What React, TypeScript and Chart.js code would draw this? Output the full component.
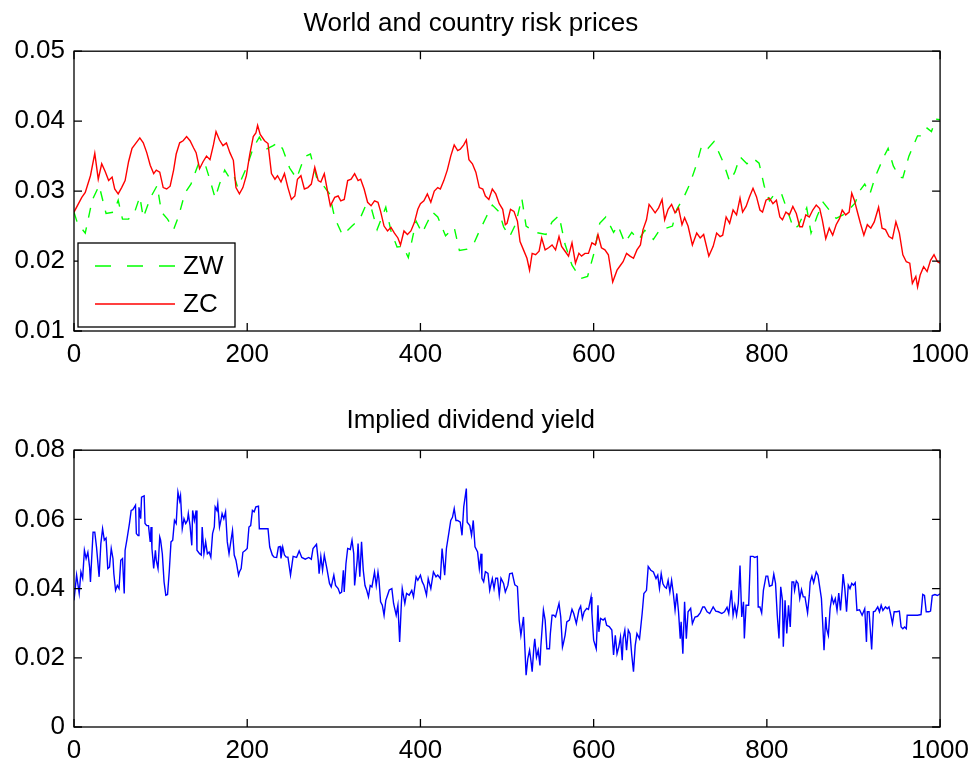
import React, { useEffect, useRef } from "react";
import { Chart, registerables } from "chart.js";

Chart.register(...registerables);

// ---------- DATA ----------
const xTicks = [0, 200, 400, 600, 800, 1000];
const topYTicks = [0.01, 0.02, 0.03, 0.04, 0.05];
const bottomYTicks = [0, 0.02, 0.04, 0.06, 0.08];

// ZW (world risk price), dashed green
const zwX = [0, 4, 13, 21, 29, 37, 46, 51, 56, 63, 70, 76, 80, 88, 96, 101, 108, 115, 121, 128, 135, 144, 151, 157, 163, 168, 174, 179, 184, 189, 199, 207, 214, 222, 230, 236, 241, 249, 257, 266, 273, 280, 285, 295, 301, 310, 321, 330, 337, 343, 350, 360, 366, 373, 380, 386, 395, 402, 407, 414, 420, 429, 439, 445, 454, 462, 467, 476, 483, 491, 496, 503, 510, 517, 522, 533, 545, 552, 560, 567, 575, 585, 593, 601, 607, 614, 623, 628, 636, 644, 652, 659, 669, 677, 684, 691, 696, 704, 711, 719, 725, 732, 739, 750, 757, 763, 769, 777, 784, 791, 797, 803, 809, 817, 824, 831, 836, 846, 851, 858, 865, 872, 880, 888, 895, 902, 907, 913, 919, 925, 935, 940, 946, 953, 957, 964, 974, 980, 985, 990, 995, 1000];
const zwY = [0.027, 0.0254, 0.024, 0.0287, 0.0308, 0.0268, 0.027, 0.0287, 0.026, 0.026, 0.027, 0.0292, 0.0262, 0.029, 0.0308, 0.027, 0.026, 0.0245, 0.0265, 0.0297, 0.031, 0.034, 0.034, 0.0316, 0.029, 0.031, 0.033, 0.032, 0.0325, 0.0305, 0.0333, 0.0362, 0.0377, 0.036, 0.0365, 0.037, 0.036, 0.0333, 0.0318, 0.0349, 0.0353, 0.032, 0.0313, 0.0296, 0.0262, 0.0237, 0.025, 0.026, 0.028, 0.0277, 0.0245, 0.0277, 0.0243, 0.022, 0.0221, 0.0205, 0.0257, 0.024, 0.0253, 0.027, 0.0263, 0.0236, 0.0248, 0.0215, 0.0217, 0.0226, 0.024, 0.0263, 0.028, 0.027, 0.0249, 0.0235, 0.0253, 0.029, 0.025, 0.0241, 0.0238, 0.0256, 0.0265, 0.0224, 0.0194, 0.0175, 0.0178, 0.0214, 0.0254, 0.0263, 0.0241, 0.0251, 0.0226, 0.0241, 0.023, 0.0244, 0.0231, 0.0246, 0.0247, 0.025, 0.0274, 0.0291, 0.031, 0.0339, 0.0366, 0.0361, 0.0371, 0.034, 0.0314, 0.0327, 0.0349, 0.0339, 0.0347, 0.034, 0.0307, 0.0286, 0.0296, 0.0296, 0.0271, 0.0246, 0.025, 0.0276, 0.024, 0.0264, 0.0284, 0.0273, 0.0261, 0.0266, 0.0274, 0.0283, 0.03, 0.031, 0.0296, 0.032, 0.0349, 0.0361, 0.0336, 0.032, 0.0319, 0.035, 0.0379, 0.0379, 0.039, 0.0385, 0.0403, 0.0402];

// ZC (country risk price), solid red
const zcX = [0, 9, 13, 19, 24, 28, 32, 36, 40, 44, 47, 51, 55, 59, 63, 67, 70, 76, 80, 84, 88, 92, 95, 99, 103, 107, 111, 115, 118, 122, 126, 130, 134, 138, 141, 145, 149, 153, 157, 161, 164, 168, 172, 176, 180, 184, 187, 191, 195, 199, 203, 207, 210, 212, 215, 220, 224, 228, 232, 235, 239, 243, 247, 251, 255, 258, 262, 266, 270, 274, 278, 282, 285, 289, 293, 296, 301, 305, 308, 312, 316, 320, 324, 328, 331, 335, 339, 343, 347, 351, 354, 358, 362, 366, 370, 374, 377, 381, 385, 389, 393, 397, 400, 404, 408, 412, 416, 420, 423, 427, 431, 435, 439, 443, 446, 450, 453, 456, 460, 464, 468, 472, 475, 479, 483, 487, 491, 495, 498, 500, 504, 508, 512, 515, 519, 523, 526, 529, 533, 537, 540, 544, 548, 552, 556, 560, 563, 567, 571, 575, 579, 583, 586, 590, 594, 598, 602, 605, 609, 613, 617, 622, 627, 631, 634, 638, 642, 646, 650, 654, 657, 661, 664, 667, 671, 675, 679, 682, 686, 690, 694, 698, 702, 705, 709, 714, 719, 723, 727, 733, 738, 742, 746, 749, 753, 757, 761, 765, 769, 772, 776, 780, 784, 788, 792, 795, 799, 803, 807, 811, 815, 818, 822, 826, 830, 834, 838, 841, 845, 849, 853, 857, 861, 864, 868, 872, 876, 880, 884, 887, 891, 895, 898, 901, 905, 908, 912, 916, 920, 924, 929, 933, 937, 941, 945, 949, 953, 957, 961, 965, 968, 972, 974, 977, 981, 985, 989, 993, 997, 1000];
const zcY = [0.027, 0.0291, 0.0298, 0.0322, 0.0354, 0.0317, 0.0339, 0.0328, 0.0315, 0.032, 0.0303, 0.0296, 0.0305, 0.0315, 0.0342, 0.0361, 0.0366, 0.0376, 0.0369, 0.0355, 0.0337, 0.0325, 0.033, 0.0327, 0.0305, 0.0303, 0.0307, 0.033, 0.0353, 0.0369, 0.0372, 0.0378, 0.0372, 0.0362, 0.0355, 0.0332, 0.0342, 0.035, 0.0345, 0.0366, 0.0385, 0.0373, 0.0365, 0.0369, 0.0355, 0.0344, 0.0305, 0.0296, 0.0305, 0.0322, 0.0353, 0.0378, 0.0383, 0.0394, 0.0381, 0.0372, 0.0368, 0.0325, 0.0317, 0.0322, 0.0313, 0.0325, 0.0305, 0.0288, 0.0293, 0.0317, 0.0322, 0.0303, 0.0305, 0.031, 0.0334, 0.0315, 0.0313, 0.0325, 0.0298, 0.0279, 0.0291, 0.0293, 0.0286, 0.0288, 0.0315, 0.0317, 0.0325, 0.0315, 0.0317, 0.0303, 0.0284, 0.0279, 0.0286, 0.0284, 0.0271, 0.025, 0.0243, 0.0248, 0.024, 0.0233, 0.0223, 0.0243, 0.0238, 0.0243, 0.0255, 0.0274, 0.0282, 0.0286, 0.0296, 0.0284, 0.03, 0.0305, 0.0303, 0.0315, 0.033, 0.035, 0.0366, 0.0358, 0.036, 0.0366, 0.0373, 0.0345, 0.0339, 0.0327, 0.0305, 0.0303, 0.0293, 0.0288, 0.0303, 0.0296, 0.0282, 0.0274, 0.0252, 0.0254, 0.0274, 0.0271, 0.0257, 0.0228, 0.0216, 0.0204, 0.0187, 0.0211, 0.0209, 0.0214, 0.0233, 0.0216, 0.0219, 0.0223, 0.0216, 0.0235, 0.0221, 0.0214, 0.0207, 0.0226, 0.0197, 0.0211, 0.0207, 0.0211, 0.0211, 0.0226, 0.0223, 0.0238, 0.0219, 0.0216, 0.0209, 0.017, 0.0187, 0.0194, 0.0199, 0.0211, 0.0207, 0.0204, 0.0216, 0.0223, 0.0245, 0.0259, 0.0281, 0.0276, 0.0269, 0.0276, 0.0288, 0.0259, 0.0274, 0.0281, 0.0269, 0.0276, 0.0252, 0.0262, 0.025, 0.0223, 0.024, 0.0233, 0.0238, 0.0207, 0.0221, 0.024, 0.0235, 0.0237, 0.0263, 0.0254, 0.0273, 0.0266, 0.029, 0.027, 0.0278, 0.0292, 0.0304, 0.0292, 0.0273, 0.027, 0.0287, 0.029, 0.0282, 0.0287, 0.0263, 0.0259, 0.027, 0.0266, 0.0278, 0.0268, 0.0249, 0.0249, 0.0266, 0.0263, 0.0273, 0.028, 0.0275, 0.0259, 0.0232, 0.0247, 0.0237, 0.0252, 0.0261, 0.0273, 0.0266, 0.027, 0.0297, 0.0287, 0.0268, 0.0254, 0.0237, 0.0252, 0.0247, 0.0256, 0.0277, 0.0247, 0.0245, 0.0235, 0.0232, 0.0256, 0.024, 0.0209, 0.0199, 0.0197, 0.0168, 0.0178, 0.0163, 0.018, 0.0192, 0.0185, 0.0201, 0.0209, 0.0199, 0.0197];

// Implied dividend yield, solid blue
const dyX = [0, 3, 6, 8, 10, 12, 14, 16, 18, 19, 22, 24, 26, 29, 31, 33, 35, 37, 39, 41, 43, 45, 46, 48, 50, 52, 54, 56, 58, 59, 61, 64, 66, 68, 71, 72, 74, 75, 77, 78, 81, 82, 84, 86, 88, 89, 90, 92, 94, 95, 97, 99, 100, 102, 104, 106, 108, 110, 112, 114, 116, 118, 120, 122, 123, 125, 127, 129, 131, 132, 134, 136, 137, 139, 141, 142, 145, 147, 148, 150, 152, 154, 156, 158, 160, 162, 163, 165, 166, 168, 170, 171, 173, 175, 177, 179, 181, 183, 185, 187, 190, 191, 193, 195, 198, 200, 202, 204, 206, 208, 210, 213, 214, 218, 222, 224, 226, 229, 231, 234, 236, 238, 239, 241, 243, 245, 247, 250, 253, 257, 260, 263, 267, 271, 274, 276, 280, 282, 283, 285, 287, 289, 292, 295, 297, 300, 302, 305, 307, 309, 311, 312, 314, 316, 319, 321, 323, 324, 327, 328, 330, 332, 334, 336, 338, 340, 342, 344, 347, 349, 351, 352, 354, 356, 358, 360, 362, 364, 367, 369, 372, 374, 376, 378, 379, 382, 384, 387, 390, 392, 395, 397, 400, 402, 404, 407, 409, 412, 415, 418, 420, 423, 425, 428, 430, 433, 435, 437, 439, 441, 443, 446, 448, 450, 453, 454, 457, 459, 461, 463, 466, 468, 470, 471, 473, 475, 478, 480, 483, 485, 487, 489, 491, 493, 496, 498, 501, 503, 506, 509, 512, 514, 516, 519, 522, 524, 526, 528, 529, 531, 532, 534, 536, 538, 539, 542, 544, 546, 549, 550, 552, 554, 556, 558, 560, 562, 564, 565, 567, 569, 572, 575, 577, 580, 583, 585, 587, 589, 592, 594, 597, 598, 600, 603, 605, 606, 608, 611, 613, 615, 618, 621, 623, 625, 627, 629, 631, 633, 634, 636, 638, 640, 642, 644, 646, 648, 650, 653, 656, 658, 661, 663, 666, 669, 672, 674, 676, 678, 680, 682, 684, 686, 688, 690, 692, 694, 696, 698, 700, 701, 703, 705, 707, 709, 712, 714, 717, 720, 723, 726, 728, 731, 734, 738, 741, 744, 748, 751, 754, 756, 759, 761, 763, 765, 767, 769, 771, 773, 774, 776, 779, 781, 784, 786, 789, 790, 792, 794, 796, 799, 801, 803, 806, 808, 810, 812, 814, 816, 818, 819, 821, 823, 825, 827, 829, 831, 832, 834, 836, 838, 840, 842, 844, 847, 849, 850, 852, 854, 857, 859, 861, 863, 864, 866, 868, 869, 871, 873, 875, 877, 879, 881, 883, 885, 887, 888, 890, 892, 894, 896, 898, 900, 902, 904, 907, 910, 913, 915, 916, 918, 921, 923, 925, 928, 930, 932, 934, 937, 939, 941, 943, 945, 947, 950, 953, 955, 957, 959, 961, 962, 968, 974, 978, 980, 982, 984, 987, 989, 991, 994, 997, 1000];
const dyY = [0.0366, 0.0439, 0.0386, 0.0448, 0.043, 0.0511, 0.0487, 0.0505, 0.0462, 0.0419, 0.0563, 0.0563, 0.052, 0.0434, 0.053, 0.0573, 0.054, 0.0546, 0.0458, 0.0462, 0.0516, 0.0487, 0.0443, 0.0395, 0.0409, 0.04, 0.0482, 0.0487, 0.0386, 0.0511, 0.054, 0.0588, 0.0626, 0.0628, 0.0641, 0.0559, 0.0553, 0.0635, 0.0602, 0.0664, 0.0668, 0.0588, 0.0582, 0.0582, 0.0535, 0.0578, 0.0516, 0.0458, 0.0511, 0.0482, 0.0458, 0.0549, 0.054, 0.05, 0.0419, 0.0381, 0.0383, 0.045, 0.0535, 0.054, 0.0597, 0.0588, 0.0679, 0.0654, 0.0668, 0.0573, 0.0602, 0.0588, 0.0597, 0.0617, 0.0582, 0.0525, 0.0626, 0.0597, 0.0626, 0.0511, 0.0501, 0.0497, 0.0578, 0.0501, 0.0535, 0.0501, 0.0506, 0.0491, 0.0559, 0.0578, 0.0636, 0.0626, 0.0645, 0.0578, 0.0602, 0.0617, 0.0602, 0.0622, 0.0535, 0.0501, 0.0535, 0.0568, 0.0497, 0.0482, 0.0439, 0.0448, 0.0458, 0.0505, 0.0511, 0.0516, 0.0578, 0.0582, 0.0626, 0.0622, 0.0636, 0.0638, 0.0573, 0.0573, 0.0573, 0.0573, 0.052, 0.0497, 0.0491, 0.049, 0.052, 0.0522, 0.0487, 0.052, 0.0497, 0.0491, 0.0491, 0.0439, 0.0493, 0.049, 0.0509, 0.049, 0.0485, 0.049, 0.0485, 0.0516, 0.0528, 0.0482, 0.0443, 0.0493, 0.0453, 0.0497, 0.0458, 0.0415, 0.0405, 0.0439, 0.0409, 0.04, 0.0386, 0.039, 0.0453, 0.039, 0.0472, 0.0516, 0.0513, 0.054, 0.0501, 0.0409, 0.0482, 0.053, 0.0434, 0.0535, 0.0453, 0.0409, 0.0395, 0.0376, 0.0409, 0.0405, 0.0448, 0.0409, 0.0448, 0.043, 0.0362, 0.0352, 0.0323, 0.0366, 0.0381, 0.0396, 0.04, 0.0357, 0.0323, 0.0352, 0.0246, 0.0357, 0.04, 0.0357, 0.0386, 0.0381, 0.0395, 0.0376, 0.0434, 0.0424, 0.0439, 0.042, 0.041, 0.0381, 0.0429, 0.04, 0.0448, 0.0434, 0.0439, 0.0429, 0.0516, 0.0439, 0.0516, 0.0564, 0.0597, 0.0606, 0.0631, 0.0597, 0.0597, 0.0592, 0.0554, 0.0636, 0.0689, 0.0592, 0.0582, 0.0554, 0.0597, 0.0521, 0.0506, 0.0458, 0.0501, 0.043, 0.042, 0.0449, 0.0444, 0.0395, 0.0429, 0.04, 0.043, 0.043, 0.0381, 0.043, 0.0415, 0.039, 0.041, 0.0443, 0.0445, 0.0411, 0.0406, 0.0309, 0.0265, 0.0318, 0.015, 0.0198, 0.0222, 0.0184, 0.016, 0.0231, 0.0255, 0.0202, 0.0222, 0.0178, 0.0231, 0.0338, 0.0309, 0.0226, 0.0226, 0.027, 0.0323, 0.0323, 0.0318, 0.0338, 0.0357, 0.0318, 0.0231, 0.0241, 0.0265, 0.0304, 0.0309, 0.034, 0.0328, 0.0299, 0.0338, 0.0349, 0.0314, 0.0333, 0.0343, 0.034, 0.0376, 0.0328, 0.0251, 0.0226, 0.0352, 0.0275, 0.0314, 0.0309, 0.0314, 0.0294, 0.029, 0.028, 0.0208, 0.0265, 0.0212, 0.0231, 0.026, 0.0193, 0.0255, 0.028, 0.0222, 0.028, 0.027, 0.0208, 0.016, 0.0236, 0.027, 0.0255, 0.0328, 0.0386, 0.0395, 0.0464, 0.0453, 0.0448, 0.0429, 0.0439, 0.0401, 0.0443, 0.0414, 0.0405, 0.0401, 0.0424, 0.039, 0.0424, 0.0386, 0.0338, 0.0386, 0.0333, 0.0255, 0.0304, 0.0212, 0.0362, 0.0255, 0.0333, 0.0343, 0.0299, 0.0318, 0.032, 0.033, 0.0347, 0.0347, 0.0333, 0.0328, 0.0347, 0.0335, 0.0333, 0.0328, 0.0333, 0.0346, 0.0328, 0.0395, 0.0323, 0.0352, 0.0323, 0.0357, 0.0467, 0.0318, 0.0362, 0.0256, 0.0352, 0.0352, 0.0493, 0.0493, 0.049, 0.0493, 0.0347, 0.0347, 0.033, 0.0395, 0.0436, 0.0436, 0.0407, 0.041, 0.0442, 0.0415, 0.0323, 0.0256, 0.0405, 0.0366, 0.0232, 0.0366, 0.027, 0.0352, 0.0289, 0.0419, 0.0419, 0.0395, 0.0422, 0.0415, 0.0371, 0.0397, 0.0376, 0.0376, 0.033, 0.0381, 0.0419, 0.0436, 0.0417, 0.0448, 0.0439, 0.0405, 0.0371, 0.0323, 0.0222, 0.0318, 0.0284, 0.0265, 0.0342, 0.0376, 0.0357, 0.0371, 0.0337, 0.0387, 0.0337, 0.04, 0.0442, 0.04, 0.0333, 0.041, 0.04, 0.0415, 0.041, 0.0417, 0.0337, 0.0339, 0.0323, 0.0342, 0.0246, 0.0333, 0.0333, 0.0224, 0.0333, 0.0335, 0.0347, 0.0333, 0.0352, 0.0337, 0.0347, 0.0342, 0.0347, 0.0325, 0.0299, 0.0333, 0.0333, 0.0335, 0.0289, 0.0284, 0.0289, 0.0284, 0.0323, 0.0323, 0.0323, 0.0325, 0.0383, 0.038, 0.0333, 0.0333, 0.0335, 0.038, 0.0383, 0.038, 0.0385];

// ---------- STYLE ----------
const FONT = "'Liberation Sans', Arial, Helvetica, sans-serif";
const W = 977;

const toPoints = (xs: number[], ys: number[]) => xs.map((x, i) => ({ x, y: ys[i] }));

const framePlugin = {
  id: "matlabFrame",
  afterDatasetsDraw(chart: any) {
    const { ctx, chartArea: a, scales } = chart;
    ctx.save();
    ctx.strokeStyle = "#000";
    ctx.lineWidth = 1.3;
    ctx.strokeRect(a.left, a.top, a.right - a.left, a.bottom - a.top);
    const tl = 8;
    ctx.beginPath();
    scales.y.ticks.forEach((t: any) => {
      const py = scales.y.getPixelForValue(t.value);
      ctx.moveTo(a.left, py);
      ctx.lineTo(a.left + tl, py);
      ctx.moveTo(a.right, py);
      ctx.lineTo(a.right - tl, py);
    });
    scales.x.ticks.forEach((t: any) => {
      const px = scales.x.getPixelForValue(t.value);
      ctx.moveTo(px, a.bottom);
      ctx.lineTo(px, a.bottom - tl);
      ctx.moveTo(px, a.top);
      ctx.lineTo(px, a.top + tl);
    });
    ctx.stroke();
    ctx.restore();
  },
};

const legendPlugin = {
  id: "matlabLegend",
  afterDraw(chart: any) {
    const { ctx, chartArea: a } = chart;
    const bw = 157;
    const bh = 84;
    const bx = a.left + 4;
    const by = a.bottom - 4 - bh;
    ctx.save();
    ctx.fillStyle = "#fff";
    ctx.fillRect(bx, by, bw, bh);
    ctx.strokeStyle = "#000";
    ctx.lineWidth = 1.3;
    ctx.strokeRect(bx, by, bw, bh);
    const entries = [
      { label: "ZW", color: "#00ff00", dash: [16, 16] },
      { label: "ZC", color: "#ff0000", dash: [] },
    ];
    entries.forEach((e, i) => {
      const y = by + 23 + i * 38;
      ctx.strokeStyle = e.color;
      ctx.lineWidth = 1.5;
      ctx.setLineDash(e.dash);
      ctx.beginPath();
      ctx.moveTo(bx + 17, y);
      ctx.lineTo(bx + 97, y);
      ctx.stroke();
      ctx.setLineDash([]);
      ctx.fillStyle = "#000";
      ctx.font = `26px ${FONT}`;
      ctx.textAlign = "left";
      ctx.textBaseline = "middle";
      ctx.fillText(e.label, bx + 105, y + 1);
    });
    ctx.restore();
  },
};

function makeOptions(opts: {
  title: string;
  titlePad: { top: number; bottom: number };
  yMin: number;
  yMax: number;
  yStep: number;
  yFmt: (v: number) => string;
  xAxisH: number;
}) {
  return {
    responsive: false,
    animation: false as const,
    layout: { padding: { left: 0, right: 35.5, top: 0, bottom: 0 } },
    plugins: {
      legend: { display: false },
      tooltip: { enabled: false },
      title: {
        display: true,
        text: opts.title,
        color: "#000",
        font: { family: FONT, size: 26, weight: "normal" as const, lineHeight: 1.2 },
        padding: opts.titlePad,
      },
    },
    scales: {
      x: {
        type: "linear" as const,
        min: 0,
        max: 1000,
        grid: { display: false, drawTicks: false },
        border: { display: false },
        ticks: {
          stepSize: 200,
          autoSkip: false,
          maxRotation: 0,
          padding: 8,
          color: "#000",
          font: { family: FONT, size: 26 },
          callback: (v: any) => String(v),
        },
        afterBuildTicks: (s: any) => {
          s.ticks = xTicks.map((v) => ({ value: v }));
        },
        afterFit: (s: any) => {
          s.height = opts.xAxisH;
        },
      },
      y: {
        type: "linear" as const,
        min: opts.yMin,
        max: opts.yMax,
        grid: { display: false, drawTicks: false },
        border: { display: false },
        ticks: {
          stepSize: opts.yStep,
          padding: 9,
          color: "#000",
          font: { family: FONT, size: 26 },
          callback: (v: any) => opts.yFmt(Number(v)),
        },
        afterFit: (s: any) => {
          s.width = 74;
        },
      },
    },
  };
}

export default function App() {
  const topRef = useRef<HTMLCanvasElement | null>(null);
  const botRef = useRef<HTMLCanvasElement | null>(null);

  useEffect(() => {
    if (!topRef.current || !botRef.current) return;
    const topOpts: any = makeOptions({
      title: "World and country risk prices",
      titlePad: { top: 8, bottom: 12 },
      yMin: 0.01,
      yMax: 0.05,
      yStep: 0.01,
      yFmt: (v) => v.toFixed(2),
      xAxisH: 59,
    });
    topOpts.scales.y.afterBuildTicks = (s: any) => {
      s.ticks = topYTicks.map((v) => ({ value: v }));
    };
    const top = new Chart(topRef.current, {
      type: "line",
      data: {
        datasets: [
          {
            label: "ZW",
            data: toPoints(zwX, zwY),
            borderColor: "#00ff00",
            borderWidth: 1.4,
            borderDash: [10, 10],
            pointRadius: 0,
            tension: 0,
            fill: false,
            order: 2,
          },
          {
            label: "ZC",
            data: toPoints(zcX, zcY),
            borderColor: "#ff0000",
            borderWidth: 1.4,
            pointRadius: 0,
            tension: 0,
            fill: false,
            order: 1,
          },
        ],
      },
      options: topOpts,
      plugins: [framePlugin, legendPlugin],
    });

    const botOpts: any = makeOptions({
      title: "Implied dividend yield",
      titlePad: { top: 15, bottom: 14 },
      yMin: 0,
      yMax: 0.08,
      yStep: 0.02,
      yFmt: (v) => (Math.abs(v) < 1e-9 ? "0" : v.toFixed(2)),
      xAxisH: 43,
    });
    botOpts.scales.y.afterBuildTicks = (s: any) => {
      s.ticks = bottomYTicks.map((v) => ({ value: v }));
    };
    const bot = new Chart(botRef.current, {
      type: "line",
      data: {
        datasets: [
          {
            label: "Implied dividend yield",
            data: toPoints(dyX, dyY),
            borderColor: "#0000ff",
            borderWidth: 1.4,
            pointRadius: 0,
            tension: 0,
            fill: false,
          },
        ],
      },
      options: botOpts,
      plugins: [framePlugin],
    });

    return () => {
      top.destroy();
      bot.destroy();
    };
  }, []);

  return (
    <div style={{ position: "absolute", left: 0, top: 0, width: W, height: 770, background: "#fff" }}>
      <canvas ref={topRef} width={W} height={390} style={{ display: "block", width: W, height: 390 }} />
      <canvas ref={botRef} width={W} height={380} style={{ display: "block", width: W, height: 380 }} />
    </div>
  );
}
